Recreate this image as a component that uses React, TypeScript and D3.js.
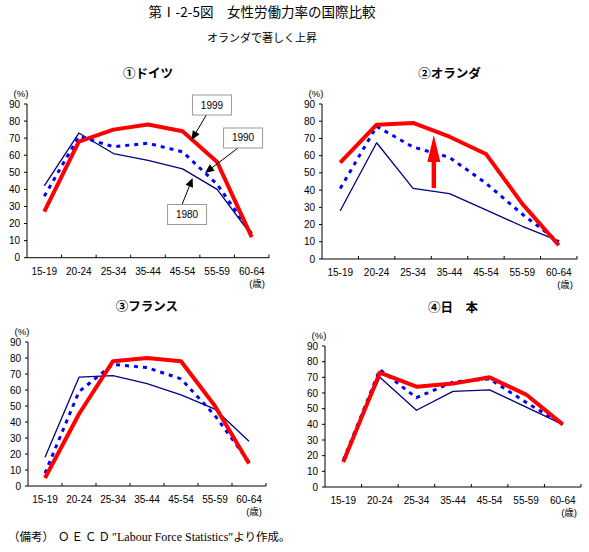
import React from 'react';
import * as d3 from 'd3';

// age groups on the x axis
const ageGroups = ['15-19', '20-24', '25-34', '35-44', '45-54', '55-59', '60-64'];
const yTicks = [0, 10, 20, 30, 40, 50, 60, 70, 80, 90];
const years = ['1980', '1990', '1999'];

// female labour force participation rate (%)
const germany1980 = [42, 73, 61, 57, 52, 40, 13];
const germany1990 = [36, 71, 65, 67, 62, 43, 14];
const germany1999 = [27, 68, 75, 78, 74, 56, 12];

const netherlands1980 = [28, 67.5, 41, 38, 28.5, 19, 10.5];
const netherlands1990 = [41, 77, 65, 59, 44, 26, 10];
const netherlands1999 = [56, 78, 79, 71, 61, 32, 8];

const france1980 = [18, 68, 69, 64, 57, 48, 28];
const france1990 = [8, 59, 76, 74, 67, 44, 15];
const france1999 = [5, 45, 78, 80, 78, 50, 14];

const japan1980 = [18, 70, 49, 61, 62, 51, 40];
const japan1990 = [17, 75, 57, 67, 69, 54, 40];
const japan1999 = [16, 73, 64, 66, 70, 59, 40];

const FONT = '"Noto Sans CJK JP", "Liberation Sans", sans-serif';
const NUM_FONT = '"Liberation Sans", "Noto Sans CJK JP", sans-serif';
const SERIF = '"Liberation Serif", "Noto Sans CJK JP", serif';

const lineStyle = {
  '1980': { stroke: '#000080', width: 1.3, dash: null },
  '1990': { stroke: '#0000ff', width: 3, dash: '4,5' },
  '1999': { stroke: '#ff0000', width: 4, dash: null },
};

// callouts in Germany panel: box centre and arrow tip, in (category index, %) units
const germanyNotes = [
  { label: '1999', box: [4.85, 89.4], from: [4.7, 84], tip: [4.26, 68.9] },
  { label: '1990', box: [5.75, 70.1], from: [5.6, 64.2], tip: [4.65, 49.6] },
  { label: '1980', box: [4.13, 25.3], from: [3.98, 30.9], tip: [4.29, 46.7] },
];

function Panel({ title, titleY, data, left, right, top, bottom, notes, riseArrow }) {
  const x = d3.scaleBand().domain(ageGroups).range([left, right]).padding(0);
  const xi = d3.scaleLinear().domain([-0.5, ageGroups.length - 0.5]).range([left, right]);
  const y = d3.scaleLinear().domain([0, 90]).range([bottom, top]);
  const line = d3
    .line()
    .x((d, i) => x(ageGroups[i]) + x.bandwidth() / 2)
    .y(d => y(d));

  const arrowHead = (fx, fy, tx, ty, len, half) => {
    const a = Math.atan2(ty - fy, tx - fx);
    const bx = tx - len * Math.cos(a);
    const by = ty - len * Math.sin(a);
    const px = -Math.sin(a) * half;
    const py = Math.cos(a) * half;
    return `${tx},${ty} ${bx + px},${by + py} ${bx - px},${by - py}`;
  };

  return (
    <g fontFamily={NUM_FONT}>
      <text x={(left + right) / 2} y={titleY} textAnchor="middle" fontSize={12.5} fontWeight="bold" fontFamily={FONT}>
        {title}
      </text>
      <text x={left - 6} y={top - 7} textAnchor="middle" fontSize={9.5}>
        (%)
      </text>
      {/* y axis */}
      <line x1={left} x2={left} y1={top} y2={bottom} stroke="#000" />
      {yTicks.map(t => (
        <g key={t}>
          <line x1={left - 3} x2={left} y1={y(t)} y2={y(t)} stroke="#000" />
          <text x={left - 7} y={y(t)} dy="0.35em" textAnchor="end" fontSize={10}>
            {t}
          </text>
        </g>
      ))}
      {/* x axis */}
      <line x1={left} x2={right} y1={bottom} y2={bottom} stroke="#000" />
      {ageGroups.map(g => (
        <g key={g}>
          <line x1={x(g) + x.bandwidth()} x2={x(g) + x.bandwidth()} y1={bottom} y2={bottom - 3} stroke="#000" />
          <text x={x(g) + x.bandwidth() / 2} y={bottom + 17} textAnchor="middle" fontSize={10}>
            {g}
          </text>
        </g>
      ))}
      <text x={right - 4} y={bottom + 29} textAnchor="end" fontSize={9.5}>
        (歳)
      </text>
      {/* series */}
      {years.map((yr, k) => (
        <path
          key={yr}
          d={line(data[k])}
          fill="none"
          stroke={lineStyle[yr].stroke}
          strokeWidth={lineStyle[yr].width}
          strokeDasharray={lineStyle[yr].dash || undefined}
          strokeLinejoin="round"
        />
      ))}
      {notes &&
        notes.map(n => {
          const fx = xi(n.from[0]);
          const fy = y(n.from[1]);
          const tx = xi(n.tip[0]);
          const ty = y(n.tip[1]);
          const a = Math.atan2(ty - fy, tx - fx);
          return (
            <g key={n.label}>
              <line x1={fx} y1={fy} x2={tx - 8 * Math.cos(a)} y2={ty - 8 * Math.sin(a)} stroke="#000" strokeWidth={1} />
              <polygon points={arrowHead(fx, fy, tx, ty, 9, 4)} fill="#000" />
              <rect
                x={xi(n.box[0]) - 19.5}
                y={y(n.box[1]) - 10}
                width={39}
                height={20}
                fill="#fff"
                stroke="#999"
              />
              <text x={xi(n.box[0])} y={y(n.box[1])} dy="0.35em" textAnchor="middle" fontSize={10}>
                {n.label}
              </text>
            </g>
          );
        })}
      {riseArrow && (
        <g>
          <line
            x1={xi(riseArrow.x)}
            x2={xi(riseArrow.x)}
            y1={y(riseArrow.from)}
            y2={y(riseArrow.to) + 14}
            stroke="#ff0000"
            strokeWidth={4.5}
          />
          <polygon
            points={arrowHead(xi(riseArrow.x), y(riseArrow.from), xi(riseArrow.x), y(riseArrow.to), 27, 6.5)}
            fill="#ff0000"
          />
        </g>
      )}
    </g>
  );
}

export default function App() {
  return (
    <svg
      width={589}
      height={552}
      style={{ position: 'absolute', left: 0, top: 0, background: '#fff' }}
    >
      <text x={262} y={17} textAnchor="middle" fontFamily={FONT} fontSize={13.5}>
        第Ⅰ-2-5図　女性労働力率の国際比較
      </text>
      <text x={262} y={42} textAnchor="middle" fontFamily={FONT} fontSize={11}>
        オランダで著しく上昇
      </text>
      <Panel
        title="①ドイツ"
        titleY={78}
        data={[germany1980, germany1990, germany1999]}
        left={27}
        right={269}
        top={104}
        bottom={257.7}
        notes={germanyNotes}
      />
      <Panel
        title="②オランダ"
        titleY={78}
        data={[netherlands1980, netherlands1990, netherlands1999]}
        left={322}
        right={577}
        top={104}
        bottom={259}
        riseArrow={{ x: 2.57, from: 41.2, to: 72 }}
      />
      <Panel
        title="③フランス"
        titleY={311}
        data={[france1980, france1990, france1999]}
        left={28}
        right={266}
        top={342}
        bottom={486}
      />
      <Panel
        title="④日　本"
        titleY={312}
        data={[japan1980, japan1990, japan1999]}
        left={325}
        right={581}
        top={346}
        bottom={487}
      />
      <text x={8} y={541} fontFamily={SERIF} fontSize={11.5}>
        （備考）
        <tspan dx={4} letterSpacing={2}>ＯＥＣＤ</tspan>
        <tspan fontSize={12}>″Labour Force Statistics″</tspan>
        <tspan>より作成。</tspan>
      </text>
    </svg>
  );
}
